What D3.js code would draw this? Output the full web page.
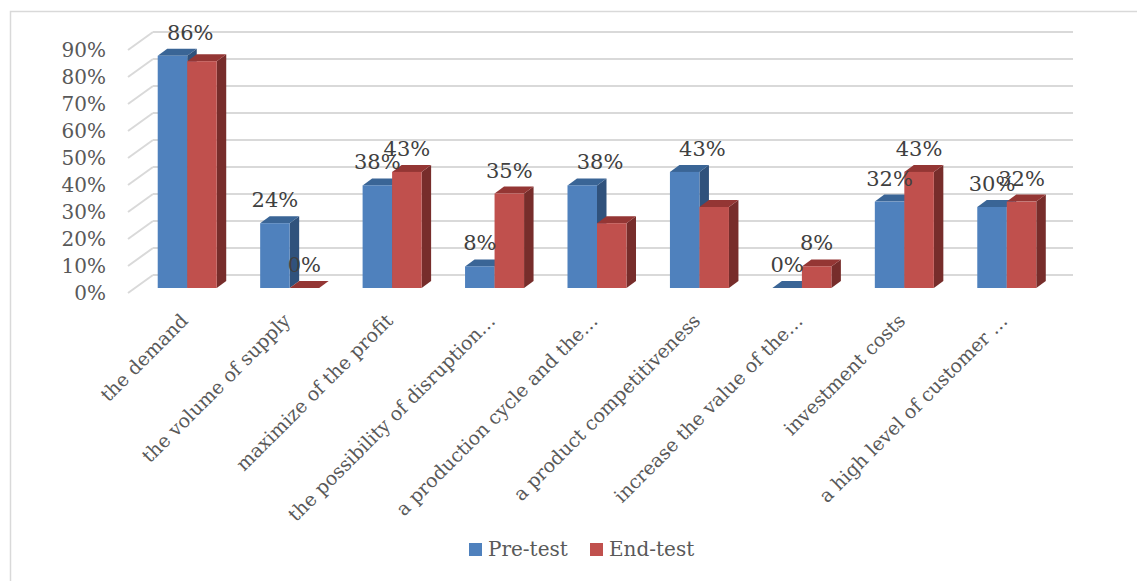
<!DOCTYPE html>
<html>
<head>
<meta charset="utf-8">
<script src="https://cdn.jsdelivr.net/npm/d3@7"></script>
<style>
  body { margin: 0; background: #fff; }
  text { font-family: "DejaVu Serif", Cambria, serif; }
</style>
</head>
<body>
<div id="chart"></div>
<script>
// chart data
const categories = [
  "the demand",
  "the volume of supply",
  "maximize of the profit",
  "the possibility of disruption…",
  "a production cycle and the…",
  "a product competitiveness",
  "increase the value of the…",
  "investment costs",
  "a high level of customer …"
];
const seriesNames = ["Pre-test", "End-test"];
const preTest = [0.86, 0.24, 0.38, 0.08, 0.38, 0.43, 0.00, 0.32, 0.30];
const endTest = [0.84, 0.00, 0.43, 0.35, 0.24, 0.30, 0.08, 0.43, 0.32];
// which data labels are shown in the reference
const preLabelShown = [true, true, true, true, true, true, true, true, true];
const endLabelShown = [false, true, true, true, false, false, true, true, true];
const yTicks = [0, 0.1, 0.2, 0.3, 0.4, 0.5, 0.6, 0.7, 0.8, 0.9];

const W = 1137, H = 581;
const colors = {
  front: ["#4f81bd", "#c0504d"],
  top:   ["#3a6596", "#943634"],
  side:  ["#30527c", "#772d2b"]
};

const svg = d3.select("#chart").append("svg")
  .attr("width", W).attr("height", H);

// outer chart border
svg.append("rect")
  .attr("x", 10.5).attr("y", 11.5)
  .attr("width", W).attr("height", H)
  .attr("fill", "none").attr("stroke", "#d9d9d9").attr("stroke-width", 1.5);

// 3D geometry
const frontX = 128, frontY = 293;      // front-left corner of floor
const wallDx = 25, wallDy = -18;       // depth to back wall
const wallRight = 1073;
const barBase = 288;                   // bars stand in the middle plane
const barDx = 9.5, barDy = -7;         // bar depth

const h = d3.scaleLinear().domain([0, 0.9]).range([0, 243]);

const x = d3.scaleBand().domain(categories).range([136, 1058]).padding(0);
const groupW = x.bandwidth() * 0.576;
const xs = d3.scaleBand().domain(seriesNames).range([0, groupW]);
const groupLeft = c => x(c) + (x.bandwidth() - groupW) / 2;

// gridlines: back wall + side wall diagonals
const grid = svg.append("g")
  .attr("stroke", "#d9d9d9").attr("stroke-width", 2).attr("fill", "none");
grid.selectAll("line.back")
  .data(yTicks)
  .enter().append("line")
    .attr("class", "back")
    .attr("x1", frontX + wallDx).attr("x2", wallRight)
    .attr("y1", d => frontY + wallDy - h(d))
    .attr("y2", d => frontY + wallDy - h(d));
grid.selectAll("line.side")
  .data(yTicks)
  .enter().append("line")
    .attr("class", "side")
    .attr("x1", frontX).attr("y1", d => frontY - h(d))
    .attr("x2", frontX + wallDx).attr("y2", d => frontY + wallDy - h(d));

// y axis labels
svg.append("g").selectAll("text")
  .data(yTicks)
  .enter().append("text")
    .attr("x", 106)
    .attr("y", d => frontY - h(d))
    .attr("dy", "0.35em")
    .attr("text-anchor", "end")
    .attr("font-size", 20)
    .attr("fill", "#595959")
    .text(d3.format(".0%"));

// bars
const rows = [];
categories.forEach((c, i) => {
  rows.push({ cat: c, s: 0, v: preTest[i], show: preLabelShown[i] });
  rows.push({ cat: c, s: 1, v: endTest[i], show: endLabelShown[i] });
});

const bars = svg.append("g").selectAll("g.bar")
  .data(rows)
  .enter().append("g")
    .attr("class", "bar");

function barGeom(d) {
  const x0 = groupLeft(d.cat) + xs(seriesNames[d.s]);
  const w = xs.bandwidth();
  const y0 = barBase - h(d.v);
  return { x0, w, y0 };
}

bars.append("path") // side face
  .attr("fill", d => colors.side[d.s])
  .attr("d", d => {
    const { x0, w, y0 } = barGeom(d);
    return `M${x0 + w},${barBase}L${x0 + w + barDx},${barBase + barDy}` +
      `L${x0 + w + barDx},${y0 + barDy}L${x0 + w},${y0}Z`;
  });
bars.append("path") // top face
  .attr("fill", d => colors.top[d.s])
  .attr("d", d => {
    const { x0, w, y0 } = barGeom(d);
    return `M${x0},${y0}L${x0 + barDx},${y0 + barDy}` +
      `L${x0 + w + barDx},${y0 + barDy}L${x0 + w},${y0}Z`;
  });
bars.append("rect") // front face
  .attr("fill", d => colors.front[d.s])
  .attr("x", d => barGeom(d).x0)
  .attr("y", d => barGeom(d).y0)
  .attr("width", xs.bandwidth())
  .attr("height", d => h(d.v));

// data labels (a lone label in a category sits over the whole group)
svg.append("g").selectAll("text")
  .data(rows.filter(d => d.show))
  .enter().append("text")
    .attr("x", d => {
      const i = categories.indexOf(d.cat);
      const lone = !(preLabelShown[i] && endLabelShown[i]);
      if (lone) return groupLeft(d.cat) + groupW / 2 + 3;
      const { x0, w } = barGeom(d);
      return x0 + w / 2;
    })
    .attr("y", d => barGeom(d).y0 + barDy - 9)
    .attr("text-anchor", "middle")
    .attr("font-size", 21)
    .attr("fill", "#404040")
    .text(d => d3.format(".0%")(d.v));

// category labels
svg.append("g").selectAll("text")
  .data(categories)
  .enter().append("text")
    .attr("transform", d => `translate(${x(d) + x.bandwidth() / 2 + 2},${322}) rotate(-45)`)
    .attr("text-anchor", "end")
    .attr("font-size", 19)
    .attr("fill", "#595959")
    .text(d => d);

// legend
const legend = svg.append("g").attr("transform", "translate(469,543)");
const item = legend.selectAll("g")
  .data(seriesNames)
  .enter().append("g")
    .attr("transform", (d, i) => `translate(${i * 121},0)`);
item.append("rect")
  .attr("width", 13).attr("height", 13)
  .attr("fill", (d, i) => colors.front[i]);
item.append("text")
  .attr("x", 19).attr("y", 13)
  .attr("font-size", 20)
  .attr("fill", "#595959")
  .text(d => d);
</script>
</body>
</html>
